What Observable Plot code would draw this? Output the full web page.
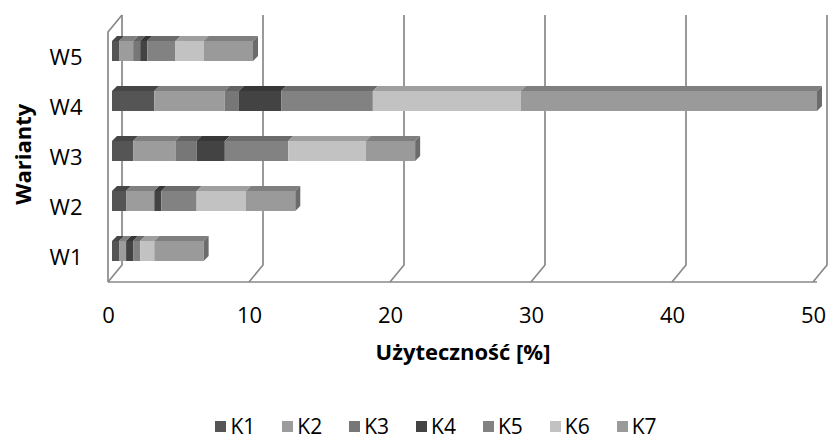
<!DOCTYPE html>
<html>
<head>
<meta charset="utf-8">
<script src="https://cdn.jsdelivr.net/npm/d3@7"></script>
<script src="https://cdn.jsdelivr.net/npm/@observablehq/plot@0.6"></script>
<style>
  html, body { margin: 0; padding: 0; background: #fff; overflow: hidden; }
  #legend { display: flex; justify-content: center; align-items: center; gap: 27px; box-sizing: border-box;
    font-family: "Open Sans", sans-serif; font-size: 21px; line-height: 21px; color: #000; height: 30px; padding-top: 2px; padding-left: 40px; }
  #legend .item { display: flex; align-items: center; gap: 4px; }
  #legend .sw { width: 11px; height: 11px; display: inline-block; }
</style>
</head>
<body>
<div id="chart"></div>
<div id="legend"></div>
<script>
// ---- data ----
const variants = ["W1", "W2", "W3", "W4", "W5"];
const keys = ["K1", "K2", "K3", "K4", "K5", "K6", "K7"];
const K1 = [0.5, 1.0, 1.5, 3.0, 0.5];
const K2 = [0.5, 2.0, 3.0, 5.0, 1.0];
const K3 = [0.0, 0.0, 1.5, 1.0, 0.5];
const K4 = [0.5, 0.5, 2.0, 3.0, 0.5];
const K5 = [0.5, 2.5, 4.5, 6.5, 2.0];
const K6 = [1.0, 3.5, 5.5, 10.5, 2.0];
const K7 = [3.5, 3.5, 3.5, 21.0, 3.5];
const series = [K1, K2, K3, K4, K5, K6, K7];
const colors = ["#555555", "#9c9c9c", "#777777", "#434343", "#828282", "#c2c2c2", "#9a9a9a"];
const xTicks = [0, 10, 20, 30, 40, 50];
const xLabel = "Użyteczność [%]";
const yLabel = "Warianty";

const data = variants.flatMap((v, i) => keys.map((k, j) => ({variant: v, key: k, value: series[j][i]})));

const GRID = "#898989";
const BACK_DX = 10, FRONT_DX = -4, Y_BACK_TOP = 15, Y_BACK = 265, Y_FRONT = 282;
const TOP_DX = 5, TOP_DY = 5;

// 3D wall / floor grid
function grid(index, scales, values, dim) {
  const g = d3.create("svg:g").attr("fill", "none").attr("stroke", GRID).attr("stroke-width", 1.7);
  const x = scales.x;
  for (const t of xTicks) {
    const xb = x(t) + BACK_DX, xf = x(t) + FRONT_DX;
    g.append("path").attr("d", `M${xb},${Y_BACK_TOP}L${xb},${Y_BACK}L${xf},${Y_FRONT}`);
  }
  const xb0 = x(0) + BACK_DX, xf0 = x(0) + FRONT_DX;
  g.append("path").attr("d", `M${xb0},${Y_BACK_TOP}L${xf0},${Y_BACK_TOP + (Y_FRONT - Y_BACK)}L${xf0},${Y_FRONT}`);
  g.append("path").attr("d", `M${xf0},${Y_FRONT}L${x(50) + FRONT_DX + 4},${Y_FRONT}`);
  return g.node();
}

// 3D tops and end faces of the bars
function tops(index, scales) {
  const g = d3.create("svg:g");
  const x = scales.x, y = scales.y;
  const bw = y.bandwidth ? y.bandwidth() : 20;
  variants.forEach((v, i) => {
    let acc = 0;
    const y0 = y(v);
    series.forEach((s, j) => {
      const a = acc, b = acc + s[i];
      acc = b;
      if (s[i] <= 0) return;
      const xa = x(a), xb = x(b);
      g.append("path")
        .attr("fill", d3.color(colors[j]).darker(0.55).formatHex())
        .attr("d", `M${xa},${y0}L${xa + TOP_DX},${y0 - TOP_DY}L${xb + TOP_DX},${y0 - TOP_DY}L${xb},${y0}Z`);
    });
    const xe = x(acc);
    g.append("path")
      .attr("fill", d3.color(colors[colors.length - 1]).darker(1.0).formatHex())
      .attr("d", `M${xe},${y0}L${xe + TOP_DX},${y0 - TOP_DY}L${xe + TOP_DX},${y0 + bw - TOP_DY}L${xe},${y0 + bw}Z`);
  });
  return g.node();
}

const plot = Plot.plot({
  width: 832,
  height: 410,
  marginLeft: 112,
  marginRight: 15,
  marginTop: 25.5,
  marginBottom: 134,
  style: {fontFamily: "'Open Sans', sans-serif", color: "#000", background: "#fff", display: "block"},
  x: {domain: [0, 50]},
  y: {domain: variants.slice().reverse(), paddingInner: 0.6, paddingOuter: 0.3},
  color: {domain: keys, range: colors},
  marks: [
    grid,
    Plot.barX(data, Plot.stackX({x: "value", y: "variant", fill: "key"})),
    tops,
    Plot.axisX({ticks: xTicks, anchor: "bottom", tickSize: 0, tickPadding: 31, dx: FRONT_DX, fontSize: 22, label: null, fill: "#000"}),
    Plot.axisY({anchor: "left", tickSize: 0, tickPadding: 30, dy: 6, fontSize: 22, label: null, fill: "#000"}),
    Plot.text([xLabel], {frameAnchor: "bottom", dy: 83, dx: -2, fontSize: 22, fontWeight: "bold", fill: "#000"}),
    Plot.text([yLabel], {frameAnchor: "left", textAnchor: "middle", dx: -89, dy: 3, rotate: -90, fontSize: 22, fontWeight: "bold", fill: "#000"})
  ]
});
document.getElementById("chart").appendChild(plot);

const legend = d3.select("#legend");
keys.forEach((k, j) => {
  const it = legend.append("div").attr("class", "item");
  it.append("span").attr("class", "sw").style("background", colors[j]);
  it.append("span").text(k);
});
</script>
</body>
</html>
